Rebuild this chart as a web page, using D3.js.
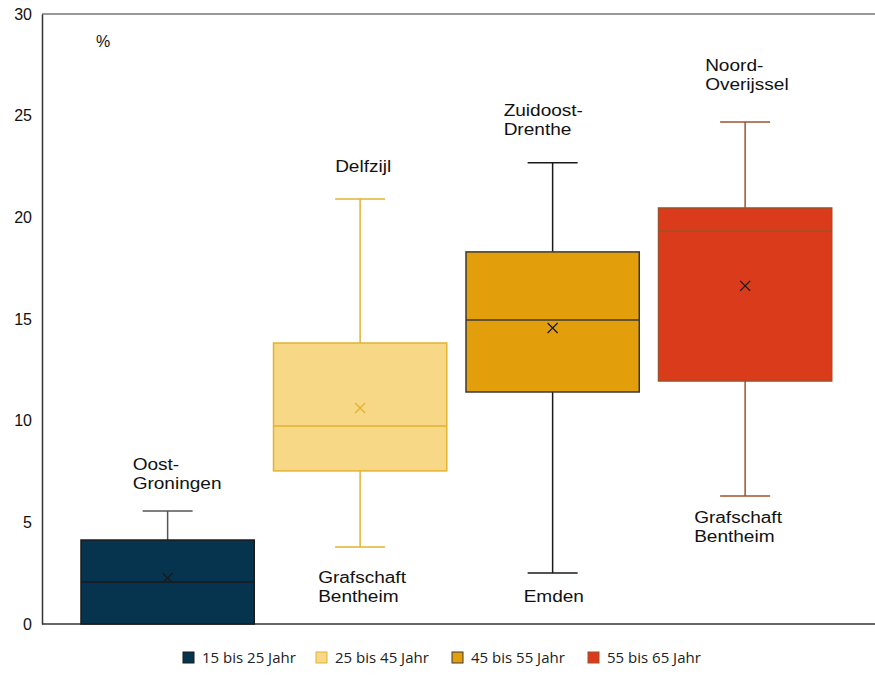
<!DOCTYPE html>
<html>
<head>
<meta charset="utf-8">
<script src="https://cdnjs.cloudflare.com/ajax/libs/d3/7.8.5/d3.min.js"></script>
<style>
  body { margin: 0; background: #fff; }
  svg text { font-family: "Liberation Sans", Arial, sans-serif; }
</style>
</head>
<body>
<svg id="chart" width="875" height="678"></svg>
<script>
// data
var groups = ["15 bis 25 Jahr", "25 bis 45 Jahr", "45 bis 55 Jahr", "55 bis 65 Jahr"];
var whiskerLow = [0, 3.79, 2.51, 6.3];
var q1 = [0, 7.53, 11.41, 11.95];
var median = [2.07, 9.74, 14.95, 19.33];
var q3 = [4.13, 13.82, 18.3, 20.46];
var whiskerHigh = [5.56, 20.9, 22.68, 24.69];
var mean = [2.26, 10.62, 14.56, 16.63];
var maxLabels = [["Oost-", "Groningen"], ["Delfzijl"], ["Zuidoost-", "Drenthe"], ["Noord-", "Overijssel"]];
var minLabels = [[], ["Grafschaft", "Bentheim"], ["Emden"], ["Grafschaft", "Bentheim"]];
var yTicks = [0, 5, 10, 15, 20, 25, 30];

// styles
var fills = ["#06344f", "#f7d886", "#e39e0b", "#da3b1b"];
var strokes = ["#1a1a1a", "#e1b330", "#3a3a3a", "#a0502a"];
var whiskerColors = ["#555555", "#e1b330", "#1a1a1a", "#a0502a"];
var meanColors = ["#1a1a1a", "#e1b330", "#1a1a1a", "#1a1a1a"];
var maxLabelDx = [-35, -25, -49, -40];
var maxLabelDy = [-22, -27, -28, -32];
var minLabelDx = [0, -42, -29, -51];
var minLabelDy = [0, 36, 29, 27];
var lineGap = 19;

var svg = d3.select("#chart");
var plotTop = 14, plotBottom = 624, plotLeft = 42, plotRight = 875;

var y = d3.scaleLinear().domain([0, 30]).range([plotBottom, plotTop]);
var x = d3.scaleBand().domain(groups).range([61.75, 851]).padding(0.1);

// frame
svg.append("line").attr("x1", plotLeft).attr("x2", plotRight).attr("y1", plotTop).attr("y2", plotTop)
    .attr("stroke", "#333").attr("stroke-width", 1);
svg.append("line").attr("x1", plotLeft).attr("x2", plotRight).attr("y1", plotBottom).attr("y2", plotBottom)
    .attr("stroke", "#333").attr("stroke-width", 1.5);

var yAxis = svg.append("g")
    .attr("transform", "translate(" + plotLeft + ",0)")
    .call(d3.axisLeft(y).tickValues(yTicks).tickSize(0).tickPadding(10));
yAxis.select(".domain").attr("stroke", "#333").attr("stroke-width", 1.5);
yAxis.selectAll("text").attr("font-size", 16).attr("fill", "#111")
    .style("font-family", "'Liberation Sans', Arial, sans-serif");

svg.append("text").attr("x", 96).attr("y", 47).attr("font-size", 16).attr("fill", "#111").text("%");

var box = svg.append("g").selectAll("g")
    .data(groups)
    .enter().append("g");

var cx = function (d) { return x(d) + x.bandwidth() / 2; };

// whiskers
box.append("line")
    .attr("x1", cx).attr("x2", cx)
    .attr("y1", function (d, i) { return y(whiskerHigh[i]); })
    .attr("y2", function (d, i) { return y(q3[i]); })
    .attr("stroke", function (d, i) { return whiskerColors[i]; }).attr("stroke-width", 1.5);
box.append("line")
    .attr("x1", cx).attr("x2", cx)
    .attr("y1", function (d, i) { return y(q1[i]); })
    .attr("y2", function (d, i) { return y(whiskerLow[i]); })
    .attr("stroke", function (d, i) { return whiskerColors[i]; }).attr("stroke-width", 1.5);
box.append("line")
    .attr("x1", function (d) { return cx(d) - 25; }).attr("x2", function (d) { return cx(d) + 25; })
    .attr("y1", function (d, i) { return y(whiskerHigh[i]); })
    .attr("y2", function (d, i) { return y(whiskerHigh[i]); })
    .attr("stroke", function (d, i) { return whiskerColors[i]; }).attr("stroke-width", 1.5);
box.filter(function (d, i) { return whiskerLow[i] > 0; }).append("line")
    .attr("x1", function (d) { return cx(d) - 25; }).attr("x2", function (d) { return cx(d) + 25; })
    .attr("y1", function (d) { return y(whiskerLow[groups.indexOf(d)]); })
    .attr("y2", function (d) { return y(whiskerLow[groups.indexOf(d)]); })
    .attr("stroke", function (d) { return whiskerColors[groups.indexOf(d)]; }).attr("stroke-width", 1.5);

// boxes
box.append("rect")
    .attr("x", function (d) { return x(d); })
    .attr("width", x.bandwidth())
    .attr("y", function (d, i) { return y(q3[i]); })
    .attr("height", function (d, i) { return y(q1[i]) - y(q3[i]); })
    .attr("fill", function (d, i) { return fills[i]; })
    .attr("stroke", function (d, i) { return strokes[i]; })
    .attr("stroke-width", 1.5);

box.append("line")
    .attr("x1", function (d) { return x(d); })
    .attr("x2", function (d) { return x(d) + x.bandwidth(); })
    .attr("y1", function (d, i) { return y(median[i]); })
    .attr("y2", function (d, i) { return y(median[i]); })
    .attr("stroke", function (d, i) { return strokes[i]; })
    .attr("stroke-width", 1.5);

// mean marker
box.append("path")
    .attr("d", function (d, i) {
        var px = cx(d), py = y(mean[i]), s = 5;
        return "M" + (px - s) + "," + (py - s) + "L" + (px + s) + "," + (py + s) +
            "M" + (px - s) + "," + (py + s) + "L" + (px + s) + "," + (py - s);
    })
    .attr("stroke", function (d, i) { return meanColors[i]; })
    .attr("stroke-width", 1.3)
    .attr("fill", "none");

// region labels (the source text is a bit wider than Arial, hence the x-scale)
function addLabel(g, lines, lx, ly) {
    var t = g.append("text")
        .attr("transform", "translate(" + lx + "," + ly + ") scale(1.19,1)")
        .attr("font-size", 16).attr("fill", "#111");
    lines.forEach(function (l, k) {
        t.append("tspan").attr("x", 0).attr("y", k * lineGap).text(l);
    });
}

box.each(function (d, i) {
    var g = d3.select(this);
    var lines = maxLabels[i];
    addLabel(g, lines, cx(d) + maxLabelDx[i],
        y(whiskerHigh[i]) + maxLabelDy[i] - (lines.length - 1) * lineGap);
    if (minLabels[i].length) {
        addLabel(g, minLabels[i], cx(d) + minLabelDx[i], y(whiskerLow[i]) + minLabelDy[i]);
    }
});

// legend
var legendX = [183, 316, 452, 588];
var legend = svg.append("g").selectAll("g")
    .data(groups)
    .enter().append("g")
    .attr("transform", function (d, i) { return "translate(" + legendX[i] + ",652)"; });
legend.append("rect")
    .attr("width", 11).attr("height", 11)
    .attr("fill", function (d, i) { return fills[i]; })
    .attr("stroke", function (d, i) { return strokes[i]; })
    .attr("stroke-width", 1);
legend.append("text")
    .attr("x", 19).attr("y", 11)
    .style("font-family", "'Open Sans', 'Noto Sans', sans-serif")
    .attr("font-size", 15).attr("fill", "#222")
    .text(function (d) { return d; });
</script>
</body>
</html>
